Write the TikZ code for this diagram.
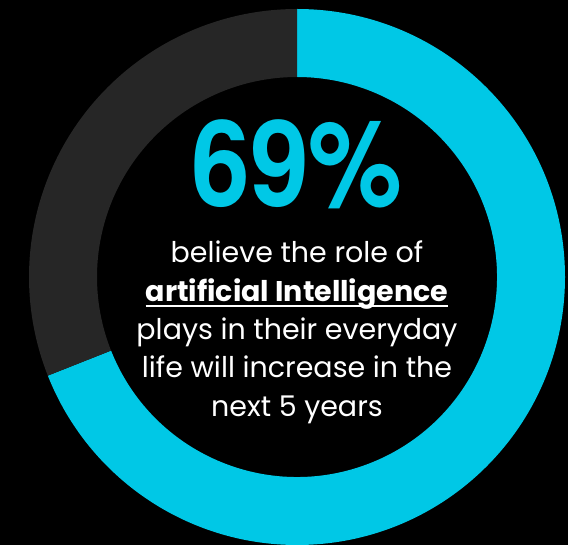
\documentclass[tikz,border=0pt]{standalone}
\usepackage{fontspec}
\usepackage{graphicx}
\setmainfont{Poppins}
\newfontfamily\numfont{TeX Gyre Heros}
\usetikzlibrary{calc}
\definecolor{ringcyan}{HTML}{00C8E6}
\definecolor{ringdark}{HTML}{262626}
\begin{document}
\begin{tikzpicture}[x=1pt,y=-1pt,
  body/.style={text=white,inner sep=0pt,anchor=base,font=\fontsize{28.5}{28.5}\selectfont}]
\fill[black] (0,0) rectangle (568,545);
\useasboundingbox (0,0) rectangle (568,545);
\coordinate (c) at (297,277);
% cyan 69% arc: from 90 deg clockwise to -158.4 deg
\fill[ringcyan] ($(c)+(0,-268)$) arc[start angle=-90,end angle=158.4,radius=268]
  -- ($(c)+({200*cos(158.4)},{200*sin(158.4)})$) arc[start angle=158.4,end angle=-90,radius=200] -- cycle;
\fill[ringdark] ($(c)+(0,-268)$) arc[start angle=-90,end angle=-201.6,radius=268]
  -- ($(c)+({200*cos(-201.6)},{200*sin(-201.6)})$) arc[start angle=-201.6,end angle=-90,radius=200] -- cycle;
\node[anchor=base,inner sep=0pt,text=ringcyan,font=\numfont\bfseries\fontsize{120}{120}\selectfont] (pct) at (297,207) {\scalebox{0.88}[1]{69\%}};
\node[body] (l1) at (297,263) {believe the role of};
\node[body,font=\bfseries\fontsize{28.5}{28.5}\selectfont] (l2) at (297,302) {artificial Intelligence};
\node[body] (l3) at (297,340) {plays in their everyday};
\node[body] (l4) at (297,378) {life will increase in the};
\node[body] (l5) at (297,417) {next 5 years};
\draw[white,line width=2pt] ($(l2.base west)+(0,4.5)$) -- ($(l2.base east)+(0,4.5)$);
\end{tikzpicture}
\end{document}
